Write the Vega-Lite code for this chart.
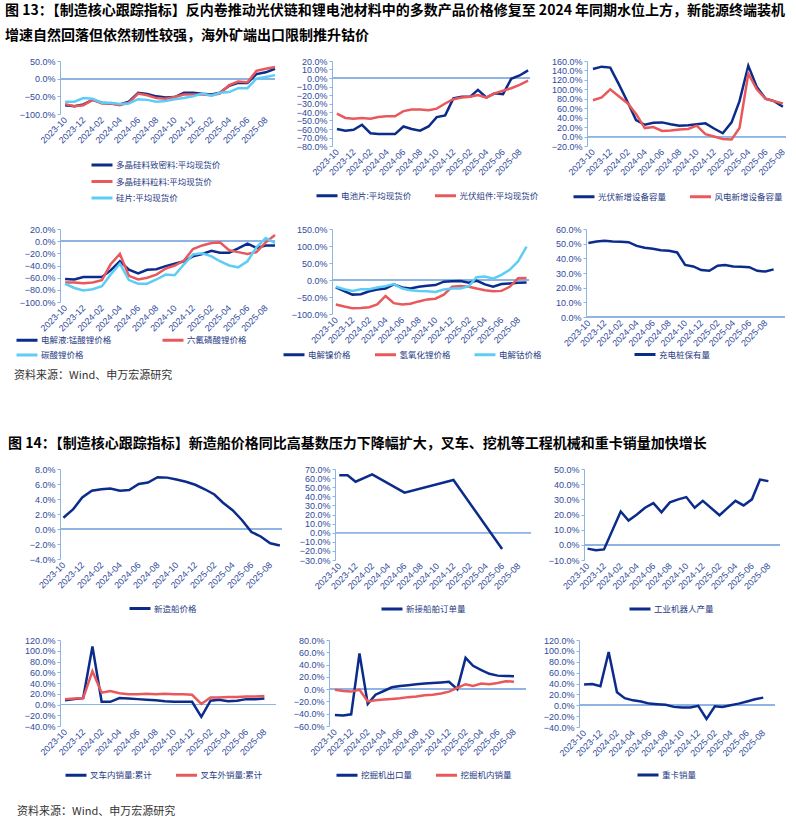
{
"$schema": "https://vega.github.io/schema/vega-lite/v6.json",
"padding": {"left": 5, "top": 4, "right": 5, "bottom": 5},
"background": "white",
"spacing": 56,
"resolve": {"scale": {"color": "independent"}, "legend": {"color": "independent"}},
"vconcat": [
{
 "title": {"text": ["图 13：【制造核心跟踪指标】反内卷推动光伏链和锂电池材料中的多数产品价格修复至 2024 年同期水位上方，新能源终端装机", "增速自然回落但依然韧性较强，海外矿端出口限制推升钴价"], "fontSize": 14, "fontWeight": "bold", "lineHeight": 25, "dx": -9, "offset": 14, "anchor": "start", "color": "#000000", "font": "Noto Sans CJK SC"},
 "resolve": {"scale": {"color": "independent"}, "legend": {"color": "independent"}},
 "vconcat": [
 {
  "title": {"text": "资料来源：Wind、申万宏源研究", "orient": "bottom", "fontSize": 11, "fontWeight": "normal", "color": "#333333", "dx": -1, "offset": 8, "anchor": "start", "font": "Noto Sans CJK SC"},
  "spacing": 20,
  "resolve": {"scale": {"color": "independent"}, "legend": {"color": "independent"}},
  "vconcat": [
  {"spacing": 57, "bounds": "flush", "resolve": {"scale": {"color": "independent"}, "legend": {"color": "independent"}}, "hconcat": [
   {"width": 215, "height": 53, "data": {"name": "p1", "format": {"parse": {"d": "date:'%Y-%m'"}}},
    "layer": [
     {"mark": {"type": "rule", "color": "#8EB4E3", "strokeWidth": 1}, "encoding": {"y": {"datum": 0, "type": "quantitative", "title": null, "axis": {"values": [-100, -50, 0, 50], "labelExpr": "format(datum.value, '.1f') + '%'", "labelOverlap": false, "minExtent": 45, "maxExtent": 45}}}},
     {"mark": {"type": "line", "strokeWidth": 2.5},
      "encoding": {
       "x": {"field": "d", "type": "temporal", "title": null, "scale": {"domain": [{"year": 2023, "month": 9, "date": 14}, {"year": 2025, "month": 9, "date": 1}]}, "axis": {"values": [{"year":2023,"month":10},{"year":2023,"month":12},{"year":2024,"month":2},{"year":2024,"month":4},{"year":2024,"month":6},{"year":2024,"month":8},{"year":2024,"month":10},{"year":2024,"month":12},{"year":2025,"month":2},{"year":2025,"month":4},{"year":2025,"month":6},{"year":2025,"month":8}]}},
       "y": {"field": "v", "type": "quantitative", "title": null, "scale": {"domain": [-100, 50], "nice": false, "zero": false}, "axis": {"values": [-100, -50, 0, 50], "labelExpr": "format(datum.value, '.1f') + '%'", "labelOverlap": false, "minExtent": 45, "maxExtent": 45}},
       "color": {"field": "s", "type": "nominal", "sort": null, "scale": {"domain": ["多晶硅料致密料:平均现货价", "多晶硅料粒料:平均现货价", "硅片:平均现货价"], "range": ["#0B2C8A", "#E9585B", "#5ECDF6"]}, "legend": {"orient": "none", "legendX": 35.5, "legendY": 97.5, "direction": "vertical", "columns": 1, "rowPadding": 3.5, "title": null}}
      }}
    ]},
   {"width": 198, "height": 85, "data": {"name": "p2", "format": {"parse": {"d": "date:'%Y-%m'"}}},
    "layer": [
     {"mark": {"type": "rule", "color": "#8EB4E3", "strokeWidth": 1}, "encoding": {"y": {"datum": 0, "type": "quantitative", "title": null, "axis": {"values": [-80, -70, -60, -50, -40, -30, -20, -10, 0, 10, 20], "labelExpr": "format(datum.value, '.1f') + '%'", "labelOverlap": false, "minExtent": 52, "maxExtent": 52}}}},
     {"mark": {"type": "line", "strokeWidth": 2.5},
      "encoding": {
       "x": {"field": "d", "type": "temporal", "title": null, "scale": {"domain": [{"year": 2023, "month": 9, "date": 13}, {"year": 2025, "month": 9, "date": 8}]}, "axis": {"values": [{"year":2023,"month":10},{"year":2023,"month":12},{"year":2024,"month":2},{"year":2024,"month":4},{"year":2024,"month":6},{"year":2024,"month":8},{"year":2024,"month":10},{"year":2024,"month":12},{"year":2025,"month":2},{"year":2025,"month":4},{"year":2025,"month":6},{"year":2025,"month":8}]}},
       "y": {"field": "v", "type": "quantitative", "title": null, "scale": {"domain": [-80, 20], "nice": false, "zero": false}, "axis": {"values": [-80, -70, -60, -50, -40, -30, -20, -10, 0, 10, 20], "labelExpr": "format(datum.value, '.1f') + '%'", "labelOverlap": false, "minExtent": 52, "maxExtent": 52}},
       "color": {"field": "s", "type": "nominal", "sort": null, "scale": {"domain": ["电池片:平均现货价", "光伏组件:平均现货价"], "range": ["#0B2C8A", "#E9585B"]}, "legend": {"orient": "none", "legendX": -11.5, "legendY": 128, "direction": "horizontal", "title": null}}
      }}
    ]},
   {"width": 199, "height": 85, "data": {"name": "p3", "format": {"parse": {"d": "date:'%Y-%m'"}}},
    "layer": [
     {"mark": {"type": "rule", "color": "#8EB4E3", "strokeWidth": 1}, "encoding": {"y": {"datum": 0, "type": "quantitative", "title": null, "axis": {"values": [-20, 0, 20, 40, 60, 80, 100, 120, 140, 160], "labelExpr": "format(datum.value, '.1f') + '%'", "labelOverlap": false, "minExtent": 51, "maxExtent": 51}}}},
     {"mark": {"type": "line", "strokeWidth": 2.5},
      "encoding": {
       "x": {"field": "d", "type": "temporal", "title": null, "scale": {"domain": [{"year": 2023, "month": 9, "date": 10}, {"year": 2025, "month": 8, "date": 12}]}, "axis": {"values": [{"year":2023,"month":10},{"year":2023,"month":12},{"year":2024,"month":2},{"year":2024,"month":4},{"year":2024,"month":6},{"year":2024,"month":8},{"year":2024,"month":10},{"year":2024,"month":12},{"year":2025,"month":2},{"year":2025,"month":4},{"year":2025,"month":6},{"year":2025,"month":8}]}},
       "y": {"field": "v", "type": "quantitative", "title": null, "scale": {"domain": [-20, 160], "nice": false, "zero": false}, "axis": {"values": [-20, 0, 20, 40, 60, 80, 100, 120, 140, 160], "labelExpr": "format(datum.value, '.1f') + '%'", "labelOverlap": false, "minExtent": 51, "maxExtent": 51}},
       "color": {"field": "s", "type": "nominal", "sort": null, "scale": {"domain": ["光伏新增设备容量", "风电新增设备容量"], "range": ["#0B2C8A", "#E9585B"]}, "legend": {"orient": "none", "legendX": -9.5, "legendY": 129, "direction": "horizontal", "title": null}}
      }}
    ]}
  ]},
  {"spacing": 57, "bounds": "flush", "resolve": {"scale": {"color": "independent"}, "legend": {"color": "independent"}}, "hconcat": [
   {"width": 215, "height": 73, "data": {"name": "p4", "format": {"parse": {"d": "date:'%Y-%m'"}}},
    "layer": [
     {"mark": {"type": "rule", "color": "#8EB4E3", "strokeWidth": 1}, "encoding": {"y": {"datum": 0, "type": "quantitative", "title": null, "axis": {"values": [-100, -80, -60, -40, -20, 0, 20], "labelExpr": "format(datum.value, '.1f') + '%'", "labelOverlap": false, "minExtent": 45, "maxExtent": 45}}}},
     {"mark": {"type": "line", "strokeWidth": 2.5},
      "encoding": {
       "x": {"field": "d", "type": "temporal", "title": null, "scale": {"domain": [{"year": 2023, "month": 9, "date": 14}, {"year": 2025, "month": 9, "date": 1}]}, "axis": {"values": [{"year":2023,"month":10},{"year":2023,"month":12},{"year":2024,"month":2},{"year":2024,"month":4},{"year":2024,"month":6},{"year":2024,"month":8},{"year":2024,"month":10},{"year":2024,"month":12},{"year":2025,"month":2},{"year":2025,"month":4},{"year":2025,"month":6},{"year":2025,"month":8}]}},
       "y": {"field": "v", "type": "quantitative", "title": null, "scale": {"domain": [-100, 20], "nice": false, "zero": false}, "axis": {"values": [-100, -80, -60, -40, -20, 0, 20], "labelExpr": "format(datum.value, '.1f') + '%'", "labelOverlap": false, "minExtent": 45, "maxExtent": 45}},
       "color": {"field": "s", "type": "nominal", "sort": null, "scale": {"domain": ["电解液:锰酸锂价格", "六氟磷酸锂价格", "碳酸锂价格"], "range": ["#0B2C8A", "#E9585B", "#5ECDF6"]}, "legend": {"orient": "none", "legendX": -39.5, "legendY": 104.5, "direction": "horizontal", "columns": 2, "rowPadding": 2, "columnPadding": 45, "title": null}}
      }}
    ]},
   {"width": 197, "height": 85, "data": {"name": "p5", "format": {"parse": {"d": "date:'%Y-%m'"}}},
    "layer": [
     {"mark": {"type": "rule", "color": "#8EB4E3", "strokeWidth": 1}, "encoding": {"y": {"datum": 0, "type": "quantitative", "title": null, "axis": {"values": [-100, -50, 0, 50, 100, 150], "labelExpr": "format(datum.value, '.1f') + '%'", "labelOverlap": false, "minExtent": 58, "maxExtent": 58}}}},
     {"mark": {"type": "line", "strokeWidth": 2.5},
      "encoding": {
       "x": {"field": "d", "type": "temporal", "title": null, "scale": {"domain": [{"year": 2023, "month": 9, "date": 17}, {"year": 2025, "month": 9, "date": 10}]}, "axis": {"values": [{"year":2023,"month":10},{"year":2023,"month":12},{"year":2024,"month":2},{"year":2024,"month":4},{"year":2024,"month":6},{"year":2024,"month":8},{"year":2024,"month":10},{"year":2024,"month":12},{"year":2025,"month":2},{"year":2025,"month":4},{"year":2025,"month":6},{"year":2025,"month":8}]}},
       "y": {"field": "v", "type": "quantitative", "title": null, "scale": {"domain": [-100, 150], "nice": false, "zero": false}, "axis": {"values": [-100, -50, 0, 50, 100, 150], "labelExpr": "format(datum.value, '.1f') + '%'", "labelOverlap": false, "minExtent": 58, "maxExtent": 58}},
       "color": {"field": "s", "type": "nominal", "sort": null, "scale": {"domain": ["电解镍价格", "氢氧化锂价格", "电解钴价格"], "range": ["#0B2C8A", "#E9585B", "#5ECDF6"]}, "legend": {"orient": "none", "legendX": -44.5, "legendY": 119, "direction": "horizontal", "title": null}}
      }}
    ]},
   {"width": 199, "height": 88, "data": {"name": "p6", "format": {"parse": {"d": "date:'%Y-%m'"}}},
    "layer": [
     {"mark": {"type": "rule", "color": "#8EB4E3", "strokeWidth": 1}, "encoding": {"y": {"datum": 0, "type": "quantitative", "title": null, "axis": {"values": [0, 10, 20, 30, 40, 50, 60], "labelExpr": "format(datum.value, '.1f') + '%'", "labelOverlap": false, "minExtent": 46, "maxExtent": 46}}}},
     {"mark": {"type": "line", "strokeWidth": 2.5},
      "encoding": {
       "x": {"field": "d", "type": "temporal", "title": null, "scale": {"domain": [{"year": 2023, "month": 9, "date": 22}, {"year": 2025, "month": 10, "date": 14}]}, "axis": {"values": [{"year":2023,"month":10},{"year":2023,"month":12},{"year":2024,"month":2},{"year":2024,"month":4},{"year":2024,"month":6},{"year":2024,"month":8},{"year":2024,"month":10},{"year":2024,"month":12},{"year":2025,"month":2},{"year":2025,"month":4},{"year":2025,"month":6},{"year":2025,"month":8}]}},
       "y": {"field": "v", "type": "quantitative", "title": null, "scale": {"domain": [0, 60], "nice": false, "zero": false}, "axis": {"values": [0, 10, 20, 30, 40, 50, 60], "labelExpr": "format(datum.value, '.1f') + '%'", "labelOverlap": false, "minExtent": 46, "maxExtent": 46}},
       "color": {"field": "s", "type": "nominal", "sort": null, "scale": {"domain": ["充电桩保有量"], "range": ["#0B2C8A"]}, "legend": {"orient": "none", "legendX": 52.5, "legendY": 119, "direction": "horizontal", "title": null}}
      }}
    ]}
  ]}
  ]
 }
 ]
},
{
 "title": {"text": "图 14：【制造核心跟踪指标】新造船价格同比高基数压力下降幅扩大，叉车、挖机等工程机械和重卡销量加快增长", "fontSize": 14, "fontWeight": "bold", "dx": -9, "offset": 14, "anchor": "start", "color": "#000000", "font": "Noto Sans CJK SC"},
 "resolve": {"scale": {"color": "independent"}, "legend": {"color": "independent"}},
 "vconcat": [
 {
  "title": {"text": "资料来源：Wind、申万宏源研究", "orient": "bottom", "fontSize": 11, "fontWeight": "normal", "color": "#333333", "dx": -1, "offset": 24, "anchor": "start", "font": "Noto Sans CJK SC"},
  "spacing": 20,
  "resolve": {"scale": {"color": "independent"}, "legend": {"color": "independent"}},
  "vconcat": [
  {"spacing": 53, "bounds": "flush", "resolve": {"scale": {"color": "independent"}, "legend": {"color": "independent"}}, "hconcat": [
   {"width": 222, "height": 90, "data": {"name": "p7", "format": {"parse": {"d": "date:'%Y-%m'"}}},
    "layer": [
     {"mark": {"type": "rule", "color": "#8EB4E3", "strokeWidth": 1}, "encoding": {"y": {"datum": 0, "type": "quantitative", "title": null, "axis": {"values": [-4, -2, 0, 2, 4, 6, 8], "labelExpr": "format(datum.value, '.1f') + '%'", "labelOverlap": false, "minExtent": 37, "maxExtent": 37}}}},
     {"mark": {"type": "line", "strokeWidth": 2.5},
      "encoding": {
       "x": {"field": "d", "type": "temporal", "title": null, "scale": {"domain": [{"year": 2023, "month": 9, "date": 20}, {"year": 2025, "month": 9, "date": 8}]}, "axis": {"values": [{"year":2023,"month":10},{"year":2023,"month":12},{"year":2024,"month":2},{"year":2024,"month":4},{"year":2024,"month":6},{"year":2024,"month":8},{"year":2024,"month":10},{"year":2024,"month":12},{"year":2025,"month":2},{"year":2025,"month":4},{"year":2025,"month":6},{"year":2025,"month":8}]}},
       "y": {"field": "v", "type": "quantitative", "title": null, "scale": {"domain": [-4, 8], "nice": false, "zero": false}, "axis": {"values": [-4, -2, 0, 2, 4, 6, 8], "labelExpr": "format(datum.value, '.1f') + '%'", "labelOverlap": false, "minExtent": 37, "maxExtent": 37}},
       "color": {"field": "s", "type": "nominal", "sort": null, "scale": {"domain": ["新造船价格"], "range": ["#0B2C8A"]}, "legend": {"orient": "none", "legendX": 73.5, "legendY": 133, "direction": "horizontal", "title": null}}
      }}
    ]},
   {"width": 196, "height": 91, "data": {"name": "p8", "format": {"parse": {"d": "date:'%Y-%m'"}}},
    "layer": [
     {"mark": {"type": "rule", "color": "#8EB4E3", "strokeWidth": 1}, "encoding": {"y": {"datum": 0, "type": "quantitative", "title": null, "axis": {"values": [-30, -20, -10, 0, 10, 20, 30, 40, 50, 60, 70], "labelExpr": "format(datum.value, '.1f') + '%'", "labelOverlap": false, "minExtent": 48, "maxExtent": 48}}}},
     {"mark": {"type": "line", "strokeWidth": 2.5},
      "encoding": {
       "x": {"field": "d", "type": "temporal", "title": null, "scale": {"domain": [{"year": 2023, "month": 9, "date": 15}, {"year": 2025, "month": 9, "date": 17}]}, "axis": {"values": [{"year":2023,"month":10},{"year":2023,"month":12},{"year":2024,"month":2},{"year":2024,"month":4},{"year":2024,"month":6},{"year":2024,"month":8},{"year":2024,"month":10},{"year":2024,"month":12},{"year":2025,"month":2},{"year":2025,"month":4},{"year":2025,"month":6},{"year":2025,"month":8}]}},
       "y": {"field": "v", "type": "quantitative", "title": null, "scale": {"domain": [-30, 70], "nice": false, "zero": false}, "axis": {"values": [-30, -20, -10, 0, 10, 20, 30, 40, 50, 60, 70], "labelExpr": "format(datum.value, '.1f') + '%'", "labelOverlap": false, "minExtent": 48, "maxExtent": 48}},
       "color": {"field": "s", "type": "nominal", "sort": null, "scale": {"domain": ["新接船舶订单量"], "range": ["#0B2C8A"]}, "legend": {"orient": "none", "legendX": 50.5, "legendY": 133.5, "direction": "horizontal", "title": null}}
      }}
    ]},
   {"width": 196, "height": 91, "data": {"name": "p9", "format": {"parse": {"d": "date:'%Y-%m'"}}},
    "layer": [
     {"mark": {"type": "rule", "color": "#8EB4E3", "strokeWidth": 1}, "encoding": {"y": {"datum": 0, "type": "quantitative", "title": null, "axis": {"values": [-10, 0, 10, 20, 30, 40, 50], "labelExpr": "format(datum.value, '.1f') + '%'", "labelOverlap": false, "minExtent": 48, "maxExtent": 48}}}},
     {"mark": {"type": "line", "strokeWidth": 2.5},
      "encoding": {
       "x": {"field": "d", "type": "temporal", "title": null, "scale": {"domain": [{"year": 2023, "month": 9, "date": 18}, {"year": 2025, "month": 9, "date": 13}]}, "axis": {"values": [{"year":2023,"month":10},{"year":2023,"month":12},{"year":2024,"month":2},{"year":2024,"month":4},{"year":2024,"month":6},{"year":2024,"month":8},{"year":2024,"month":10},{"year":2024,"month":12},{"year":2025,"month":2},{"year":2025,"month":4},{"year":2025,"month":6},{"year":2025,"month":8}]}},
       "y": {"field": "v", "type": "quantitative", "title": null, "scale": {"domain": [-10, 50], "nice": false, "zero": false}, "axis": {"values": [-10, 0, 10, 20, 30, 40, 50], "labelExpr": "format(datum.value, '.1f') + '%'", "labelOverlap": false, "minExtent": 48, "maxExtent": 48}},
       "color": {"field": "s", "type": "nominal", "sort": null, "scale": {"domain": ["工业机器人产量"], "range": ["#0B2C8A"]}, "legend": {"orient": "none", "legendX": 49.5, "legendY": 133.5, "direction": "horizontal", "title": null}}
      }}
    ]}
  ]},
  {"spacing": 53, "bounds": "flush", "resolve": {"scale": {"color": "independent"}, "legend": {"color": "independent"}}, "hconcat": [
   {"width": 216, "height": 86, "data": {"name": "p10", "format": {"parse": {"d": "date:'%Y-%m'"}}},
    "layer": [
     {"mark": {"type": "rule", "color": "#8EB4E3", "strokeWidth": 1}, "encoding": {"y": {"datum": 0, "type": "quantitative", "title": null, "axis": {"values": [-40, -20, 0, 20, 40, 60, 80, 100, 120], "labelExpr": "format(datum.value, '.1f') + '%'", "labelOverlap": false, "minExtent": 42, "maxExtent": 42}}}},
     {"mark": {"type": "line", "strokeWidth": 2.5},
      "encoding": {
       "x": {"field": "d", "type": "temporal", "title": null, "scale": {"domain": [{"year": 2023, "month": 9, "date": 14}, {"year": 2025, "month": 9, "date": 9}]}, "axis": {"values": [{"year":2023,"month":10},{"year":2023,"month":12},{"year":2024,"month":2},{"year":2024,"month":4},{"year":2024,"month":6},{"year":2024,"month":8},{"year":2024,"month":10},{"year":2024,"month":12},{"year":2025,"month":2},{"year":2025,"month":4},{"year":2025,"month":6},{"year":2025,"month":8}]}},
       "y": {"field": "v", "type": "quantitative", "title": null, "scale": {"domain": [-40, 120], "nice": false, "zero": false}, "axis": {"values": [-40, -20, 0, 20, 40, 60, 80, 100, 120], "labelExpr": "format(datum.value, '.1f') + '%'", "labelOverlap": false, "minExtent": 42, "maxExtent": 42}},
       "color": {"field": "s", "type": "nominal", "sort": null, "scale": {"domain": ["叉车内销量:累计", "叉车外销量:累计"], "range": ["#0B2C8A", "#E9585B"]}, "legend": {"orient": "none", "legendX": 9.5, "legendY": 128.5, "direction": "horizontal", "title": null}}
      }}
    ]},
   {"width": 197, "height": 86, "data": {"name": "p11", "format": {"parse": {"d": "date:'%Y-%m'"}}},
    "layer": [
     {"mark": {"type": "rule", "color": "#8EB4E3", "strokeWidth": 1}, "encoding": {"y": {"datum": 0, "type": "quantitative", "title": null, "axis": {"values": [-60, -40, -20, 0, 20, 40, 60, 80], "labelExpr": "format(datum.value, '.1f') + '%'", "labelOverlap": false, "minExtent": 48, "maxExtent": 48}}}},
     {"mark": {"type": "line", "strokeWidth": 2.5},
      "encoding": {
       "x": {"field": "d", "type": "temporal", "title": null, "scale": {"domain": [{"year": 2023, "month": 9, "date": 9}, {"year": 2025, "month": 9, "date": 15}]}, "axis": {"values": [{"year":2023,"month":10},{"year":2023,"month":12},{"year":2024,"month":2},{"year":2024,"month":4},{"year":2024,"month":6},{"year":2024,"month":8},{"year":2024,"month":10},{"year":2024,"month":12},{"year":2025,"month":2},{"year":2025,"month":4},{"year":2025,"month":6},{"year":2025,"month":8}]}},
       "y": {"field": "v", "type": "quantitative", "title": null, "scale": {"domain": [-60, 80], "nice": false, "zero": false}, "axis": {"values": [-60, -40, -20, 0, 20, 40, 60, 80], "labelExpr": "format(datum.value, '.1f') + '%'", "labelOverlap": false, "minExtent": 48, "maxExtent": 48}},
       "color": {"field": "s", "type": "nominal", "sort": null, "scale": {"domain": ["挖掘机出口量", "挖掘机内销量"], "range": ["#0B2C8A", "#E9585B"]}, "legend": {"orient": "none", "legendX": 11.5, "legendY": 128.5, "direction": "horizontal", "title": null}}
      }}
    ]},
   {"width": 196, "height": 87, "data": {"name": "p12", "format": {"parse": {"d": "date:'%Y-%m'"}}},
    "layer": [
     {"mark": {"type": "rule", "color": "#8EB4E3", "strokeWidth": 1}, "encoding": {"y": {"datum": 0, "type": "quantitative", "title": null, "axis": {"values": [-40, -20, 0, 20, 40, 60, 80, 100, 120], "labelExpr": "format(datum.value, '.1f') + '%'", "labelOverlap": false, "minExtent": 49, "maxExtent": 49}}}},
     {"mark": {"type": "line", "strokeWidth": 2.5},
      "encoding": {
       "x": {"field": "d", "type": "temporal", "title": null, "scale": {"domain": [{"year": 2023, "month": 9, "date": 12}, {"year": 2025, "month": 9, "date": 14}]}, "axis": {"values": [{"year":2023,"month":10},{"year":2023,"month":12},{"year":2024,"month":2},{"year":2024,"month":4},{"year":2024,"month":6},{"year":2024,"month":8},{"year":2024,"month":10},{"year":2024,"month":12},{"year":2025,"month":2},{"year":2025,"month":4},{"year":2025,"month":6},{"year":2025,"month":8}]}},
       "y": {"field": "v", "type": "quantitative", "title": null, "scale": {"domain": [-40, 120], "nice": false, "zero": false}, "axis": {"values": [-40, -20, 0, 20, 40, 60, 80, 100, 120], "labelExpr": "format(datum.value, '.1f') + '%'", "labelOverlap": false, "minExtent": 49, "maxExtent": 49}},
       "color": {"field": "s", "type": "nominal", "sort": null, "scale": {"domain": ["重卡销量"], "range": ["#0B2C8A"]}, "legend": {"orient": "none", "legendX": 62.5, "legendY": 128.5, "direction": "horizontal", "title": null}}
      }}
    ]}
  ]}
  ]
 }
 ]
}
],
"datasets": {
"p1": [
{"d":"2023-10","s":"多晶硅料致密料:平均现货价","v":-75},{"d":"2023-11","s":"多晶硅料致密料:平均现货价","v":-78},{"d":"2023-12","s":"多晶硅料致密料:平均现货价","v":-73},{"d":"2024-01","s":"多晶硅料致密料:平均现货价","v":-60},{"d":"2024-02","s":"多晶硅料致密料:平均现货价","v":-68},{"d":"2024-03","s":"多晶硅料致密料:平均现货价","v":-70},{"d":"2024-04","s":"多晶硅料致密料:平均现货价","v":-73},{"d":"2024-05","s":"多晶硅料致密料:平均现货价","v":-65},{"d":"2024-06","s":"多晶硅料致密料:平均现货价","v":-40},{"d":"2024-07","s":"多晶硅料致密料:平均现货价","v":-43},{"d":"2024-08","s":"多晶硅料致密料:平均现货价","v":-50},{"d":"2024-09","s":"多晶硅料致密料:平均现货价","v":-53},{"d":"2024-10","s":"多晶硅料致密料:平均现货价","v":-52},{"d":"2024-11","s":"多晶硅料致密料:平均现货价","v":-40},{"d":"2024-12","s":"多晶硅料致密料:平均现货价","v":-40},{"d":"2025-01","s":"多晶硅料致密料:平均现货价","v":-43},{"d":"2025-02","s":"多晶硅料致密料:平均现货价","v":-45},{"d":"2025-03","s":"多晶硅料致密料:平均现货价","v":-40},{"d":"2025-04","s":"多晶硅料致密料:平均现货价","v":-20},{"d":"2025-05","s":"多晶硅料致密料:平均现货价","v":-12},{"d":"2025-06","s":"多晶硅料致密料:平均现货价","v":-12},{"d":"2025-07","s":"多晶硅料致密料:平均现货价","v":13},{"d":"2025-08","s":"多晶硅料致密料:平均现货价","v":18},{"d":"2025-09","s":"多晶硅料致密料:平均现货价","v":28},
{"d":"2023-10","s":"多晶硅料粒料:平均现货价","v":-72},{"d":"2023-11","s":"多晶硅料粒料:平均现货价","v":-78},{"d":"2023-12","s":"多晶硅料粒料:平均现货价","v":-75},{"d":"2024-01","s":"多晶硅料粒料:平均现货价","v":-60},{"d":"2024-02","s":"多晶硅料粒料:平均现货价","v":-70},{"d":"2024-03","s":"多晶硅料粒料:平均现货价","v":-70},{"d":"2024-04","s":"多晶硅料粒料:平均现货价","v":-75},{"d":"2024-05","s":"多晶硅料粒料:平均现货价","v":-68},{"d":"2024-06","s":"多晶硅料粒料:平均现货价","v":-42},{"d":"2024-07","s":"多晶硅料粒料:平均现货价","v":-47},{"d":"2024-08","s":"多晶硅料粒料:平均现货价","v":-55},{"d":"2024-09","s":"多晶硅料粒料:平均现货价","v":-57},{"d":"2024-10","s":"多晶硅料粒料:平均现货价","v":-52},{"d":"2024-11","s":"多晶硅料粒料:平均现货价","v":-45},{"d":"2024-12","s":"多晶硅料粒料:平均现货价","v":-45},{"d":"2025-01","s":"多晶硅料粒料:平均现货价","v":-45},{"d":"2025-02","s":"多晶硅料粒料:平均现货价","v":-47},{"d":"2025-03","s":"多晶硅料粒料:平均现货价","v":-42},{"d":"2025-04","s":"多晶硅料粒料:平均现货价","v":-18},{"d":"2025-05","s":"多晶硅料粒料:平均现货价","v":-8},{"d":"2025-06","s":"多晶硅料粒料:平均现货价","v":-10},{"d":"2025-07","s":"多晶硅料粒料:平均现货价","v":22},{"d":"2025-08","s":"多晶硅料粒料:平均现货价","v":28},{"d":"2025-09","s":"多晶硅料粒料:平均现货价","v":33},
{"d":"2023-10","s":"硅片:平均现货价","v":-65},{"d":"2023-11","s":"硅片:平均现货价","v":-65},{"d":"2023-12","s":"硅片:平均现货价","v":-55},{"d":"2024-01","s":"硅片:平均现货价","v":-57},{"d":"2024-02","s":"硅片:平均现货价","v":-68},{"d":"2024-03","s":"硅片:平均现货价","v":-68},{"d":"2024-04","s":"硅片:平均现货价","v":-72},{"d":"2024-05","s":"硅片:平均现货价","v":-70},{"d":"2024-06","s":"硅片:平均现货价","v":-58},{"d":"2024-07","s":"硅片:平均现货价","v":-60},{"d":"2024-08","s":"硅片:平均现货价","v":-65},{"d":"2024-09","s":"硅片:平均现货价","v":-63},{"d":"2024-10","s":"硅片:平均现货价","v":-58},{"d":"2024-11","s":"硅片:平均现货价","v":-55},{"d":"2024-12","s":"硅片:平均现货价","v":-50},{"d":"2025-01","s":"硅片:平均现货价","v":-42},{"d":"2025-02","s":"硅片:平均现货价","v":-48},{"d":"2025-03","s":"硅片:平均现货价","v":-40},{"d":"2025-04","s":"硅片:平均现货价","v":-38},{"d":"2025-05","s":"硅片:平均现货价","v":-27},{"d":"2025-06","s":"硅片:平均现货价","v":-27},{"d":"2025-07","s":"硅片:平均现货价","v":0},{"d":"2025-08","s":"硅片:平均现货价","v":5},{"d":"2025-09","s":"硅片:平均现货价","v":10}
],
"p2": [
{"d":"2023-10","s":"电池片:平均现货价","v":-60},{"d":"2023-11","s":"电池片:平均现货价","v":-62},{"d":"2023-12","s":"电池片:平均现货价","v":-61},{"d":"2024-01","s":"电池片:平均现货价","v":-55},{"d":"2024-02","s":"电池片:平均现货价","v":-65},{"d":"2024-03","s":"电池片:平均现货价","v":-66},{"d":"2024-04","s":"电池片:平均现货价","v":-66},{"d":"2024-05","s":"电池片:平均现货价","v":-66},{"d":"2024-06","s":"电池片:平均现货价","v":-57},{"d":"2024-07","s":"电池片:平均现货价","v":-60},{"d":"2024-08","s":"电池片:平均现货价","v":-62},{"d":"2024-09","s":"电池片:平均现货价","v":-57},{"d":"2024-10","s":"电池片:平均现货价","v":-46},{"d":"2024-11","s":"电池片:平均现货价","v":-44},{"d":"2024-12","s":"电池片:平均现货价","v":-24},{"d":"2025-01","s":"电池片:平均现货价","v":-22},{"d":"2025-02","s":"电池片:平均现货价","v":-22},{"d":"2025-03","s":"电池片:平均现货价","v":-14},{"d":"2025-04","s":"电池片:平均现货价","v":-23},{"d":"2025-05","s":"电池片:平均现货价","v":-18},{"d":"2025-06","s":"电池片:平均现货价","v":-19},{"d":"2025-07","s":"电池片:平均现货价","v":-1},{"d":"2025-08","s":"电池片:平均现货价","v":3},{"d":"2025-09","s":"电池片:平均现货价","v":9},
{"d":"2023-10","s":"光伏组件:平均现货价","v":-42},{"d":"2023-11","s":"光伏组件:平均现货价","v":-47},{"d":"2023-12","s":"光伏组件:平均现货价","v":-48},{"d":"2024-01","s":"光伏组件:平均现货价","v":-47},{"d":"2024-02","s":"光伏组件:平均现货价","v":-48},{"d":"2024-03","s":"光伏组件:平均现货价","v":-46},{"d":"2024-04","s":"光伏组件:平均现货价","v":-45},{"d":"2024-05","s":"光伏组件:平均现货价","v":-45},{"d":"2024-06","s":"光伏组件:平均现货价","v":-39},{"d":"2024-07","s":"光伏组件:平均现货价","v":-37},{"d":"2024-08","s":"光伏组件:平均现货价","v":-37},{"d":"2024-09","s":"光伏组件:平均现货价","v":-38},{"d":"2024-10","s":"光伏组件:平均现货价","v":-36},{"d":"2024-11","s":"光伏组件:平均现货价","v":-30},{"d":"2024-12","s":"光伏组件:平均现货价","v":-25},{"d":"2025-01","s":"光伏组件:平均现货价","v":-23},{"d":"2025-02","s":"光伏组件:平均现货价","v":-22},{"d":"2025-03","s":"光伏组件:平均现货价","v":-20},{"d":"2025-04","s":"光伏组件:平均现货价","v":-23},{"d":"2025-05","s":"光伏组件:平均现货价","v":-18},{"d":"2025-06","s":"光伏组件:平均现货价","v":-15},{"d":"2025-07","s":"光伏组件:平均现货价","v":-12},{"d":"2025-08","s":"光伏组件:平均现货价","v":-8},{"d":"2025-09","s":"光伏组件:平均现货价","v":-3}
],
"p3": [
{"d":"2023-10","s":"光伏新增设备容量","v":143},{"d":"2023-11","s":"光伏新增设备容量","v":148},{"d":"2023-12","s":"光伏新增设备容量","v":146},{"d":"2024-01","s":"光伏新增设备容量","v":110},{"d":"2024-02","s":"光伏新增设备容量","v":72},{"d":"2024-03","s":"光伏新增设备容量","v":35},{"d":"2024-04","s":"光伏新增设备容量","v":25},{"d":"2024-05","s":"光伏新增设备容量","v":29},{"d":"2024-06","s":"光伏新增设备容量","v":30},{"d":"2024-07","s":"光伏新增设备容量","v":26},{"d":"2024-08","s":"光伏新增设备容量","v":23},{"d":"2024-09","s":"光伏新增设备容量","v":24},{"d":"2024-10","s":"光伏新增设备容量","v":26},{"d":"2024-11","s":"光伏新增设备容量","v":28},{"d":"2024-12","s":"光伏新增设备容量","v":17},{"d":"2025-01","s":"光伏新增设备容量","v":7},{"d":"2025-02","s":"光伏新增设备容量","v":30},{"d":"2025-03","s":"光伏新增设备容量","v":75},{"d":"2025-04","s":"光伏新增设备容量","v":150},{"d":"2025-05","s":"光伏新增设备容量","v":105},{"d":"2025-06","s":"光伏新增设备容量","v":80},{"d":"2025-07","s":"光伏新增设备容量","v":75},{"d":"2025-08","s":"光伏新增设备容量","v":63},
{"d":"2023-10","s":"风电新增设备容量","v":77},{"d":"2023-11","s":"风电新增设备容量","v":83},{"d":"2023-12","s":"风电新增设备容量","v":100},{"d":"2024-01","s":"风电新增设备容量","v":85},{"d":"2024-02","s":"风电新增设备容量","v":70},{"d":"2024-03","s":"风电新增设备容量","v":48},{"d":"2024-04","s":"风电新增设备容量","v":18},{"d":"2024-05","s":"风电新增设备容量","v":20},{"d":"2024-06","s":"风电新增设备容量","v":12},{"d":"2024-07","s":"风电新增设备容量","v":13},{"d":"2024-08","s":"风电新增设备容量","v":15},{"d":"2024-09","s":"风电新增设备容量","v":16},{"d":"2024-10","s":"风电新增设备容量","v":23},{"d":"2024-11","s":"风电新增设备容量","v":5},{"d":"2024-12","s":"风电新增设备容量","v":0},{"d":"2025-01","s":"风电新增设备容量","v":-5},{"d":"2025-02","s":"风电新增设备容量","v":-6},{"d":"2025-03","s":"风电新增设备容量","v":18},{"d":"2025-04","s":"风电新增设备容量","v":133},{"d":"2025-05","s":"风电新增设备容量","v":100},{"d":"2025-06","s":"风电新增设备容量","v":80},{"d":"2025-07","s":"风电新增设备容量","v":75},{"d":"2025-08","s":"风电新增设备容量","v":70}
],
"p4": [
{"d":"2023-10","s":"电解液:锰酸锂价格","v":-62},{"d":"2023-11","s":"电解液:锰酸锂价格","v":-63},{"d":"2023-12","s":"电解液:锰酸锂价格","v":-59},{"d":"2024-01","s":"电解液:锰酸锂价格","v":-59},{"d":"2024-02","s":"电解液:锰酸锂价格","v":-59},{"d":"2024-03","s":"电解液:锰酸锂价格","v":-48},{"d":"2024-04","s":"电解液:锰酸锂价格","v":-33},{"d":"2024-05","s":"电解液:锰酸锂价格","v":-47},{"d":"2024-06","s":"电解液:锰酸锂价格","v":-53},{"d":"2024-07","s":"电解液:锰酸锂价格","v":-47},{"d":"2024-08","s":"电解液:锰酸锂价格","v":-46},{"d":"2024-09","s":"电解液:锰酸锂价格","v":-41},{"d":"2024-10","s":"电解液:锰酸锂价格","v":-37},{"d":"2024-11","s":"电解液:锰酸锂价格","v":-33},{"d":"2024-12","s":"电解液:锰酸锂价格","v":-25},{"d":"2025-01","s":"电解液:锰酸锂价格","v":-21},{"d":"2025-02","s":"电解液:锰酸锂价格","v":-16},{"d":"2025-03","s":"电解液:锰酸锂价格","v":-19},{"d":"2025-04","s":"电解液:锰酸锂价格","v":-19},{"d":"2025-05","s":"电解液:锰酸锂价格","v":-12},{"d":"2025-06","s":"电解液:锰酸锂价格","v":-4},{"d":"2025-07","s":"电解液:锰酸锂价格","v":-11},{"d":"2025-08","s":"电解液:锰酸锂价格","v":-7},{"d":"2025-09","s":"电解液:锰酸锂价格","v":-7},
{"d":"2023-10","s":"六氟磷酸锂价格","v":-68},{"d":"2023-11","s":"六氟磷酸锂价格","v":-68},{"d":"2023-12","s":"六氟磷酸锂价格","v":-69},{"d":"2024-01","s":"六氟磷酸锂价格","v":-68},{"d":"2024-02","s":"六氟磷酸锂价格","v":-64},{"d":"2024-03","s":"六氟磷酸锂价格","v":-38},{"d":"2024-04","s":"六氟磷酸锂价格","v":-21},{"d":"2024-05","s":"六氟磷酸锂价格","v":-57},{"d":"2024-06","s":"六氟磷酸锂价格","v":-63},{"d":"2024-07","s":"六氟磷酸锂价格","v":-60},{"d":"2024-08","s":"六氟磷酸锂价格","v":-55},{"d":"2024-09","s":"六氟磷酸锂价格","v":-45},{"d":"2024-10","s":"六氟磷酸锂价格","v":-40},{"d":"2024-11","s":"六氟磷酸锂价格","v":-32},{"d":"2024-12","s":"六氟磷酸锂价格","v":-13},{"d":"2025-01","s":"六氟磷酸锂价格","v":-7},{"d":"2025-02","s":"六氟磷酸锂价格","v":-3},{"d":"2025-03","s":"六氟磷酸锂价格","v":-2},{"d":"2025-04","s":"六氟磷酸锂价格","v":-15},{"d":"2025-05","s":"六氟磷酸锂价格","v":-18},{"d":"2025-06","s":"六氟磷酸锂价格","v":-21},{"d":"2025-07","s":"六氟磷酸锂价格","v":-18},{"d":"2025-08","s":"六氟磷酸锂价格","v":-2},{"d":"2025-09","s":"六氟磷酸锂价格","v":10},
{"d":"2023-10","s":"碳酸锂价格","v":-70},{"d":"2023-11","s":"碳酸锂价格","v":-77},{"d":"2023-12","s":"碳酸锂价格","v":-81},{"d":"2024-01","s":"碳酸锂价格","v":-79},{"d":"2024-02","s":"碳酸锂价格","v":-74},{"d":"2024-03","s":"碳酸锂价格","v":-55},{"d":"2024-04","s":"碳酸锂价格","v":-37},{"d":"2024-05","s":"碳酸锂价格","v":-64},{"d":"2024-06","s":"碳酸锂价格","v":-70},{"d":"2024-07","s":"碳酸锂价格","v":-70},{"d":"2024-08","s":"碳酸锂价格","v":-63},{"d":"2024-09","s":"碳酸锂价格","v":-55},{"d":"2024-10","s":"碳酸锂价格","v":-56},{"d":"2024-11","s":"碳酸锂价格","v":-38},{"d":"2024-12","s":"碳酸锂价格","v":-22},{"d":"2025-01","s":"碳酸锂价格","v":-20},{"d":"2025-02","s":"碳酸锂价格","v":-25},{"d":"2025-03","s":"碳酸锂价格","v":-33},{"d":"2025-04","s":"碳酸锂价格","v":-40},{"d":"2025-05","s":"碳酸锂价格","v":-43},{"d":"2025-06","s":"碳酸锂价格","v":-33},{"d":"2025-07","s":"碳酸锂价格","v":-10},{"d":"2025-08","s":"碳酸锂价格","v":5},{"d":"2025-09","s":"碳酸锂价格","v":-3}
],
"p5": [
{"d":"2023-10","s":"电解镍价格","v":-22},{"d":"2023-11","s":"电解镍价格","v":-33},{"d":"2023-12","s":"电解镍价格","v":-43},{"d":"2024-01","s":"电解镍价格","v":-42},{"d":"2024-02","s":"电解镍价格","v":-33},{"d":"2024-03","s":"电解镍价格","v":-28},{"d":"2024-04","s":"电解镍价格","v":-25},{"d":"2024-05","s":"电解镍价格","v":-13},{"d":"2024-06","s":"电解镍价格","v":-22},{"d":"2024-07","s":"电解镍价格","v":-25},{"d":"2024-08","s":"电解镍价格","v":-20},{"d":"2024-09","s":"电解镍价格","v":-17},{"d":"2024-10","s":"电解镍价格","v":-15},{"d":"2024-11","s":"电解镍价格","v":-5},{"d":"2024-12","s":"电解镍价格","v":-4},{"d":"2025-01","s":"电解镍价格","v":-3},{"d":"2025-02","s":"电解镍价格","v":-8},{"d":"2025-03","s":"电解镍价格","v":-2},{"d":"2025-04","s":"电解镍价格","v":-13},{"d":"2025-05","s":"电解镍价格","v":-20},{"d":"2025-06","s":"电解镍价格","v":-12},{"d":"2025-07","s":"电解镍价格","v":-10},{"d":"2025-08","s":"电解镍价格","v":-8},{"d":"2025-09","s":"电解镍价格","v":-7},
{"d":"2023-10","s":"氢氧化锂价格","v":-72},{"d":"2023-11","s":"氢氧化锂价格","v":-78},{"d":"2023-12","s":"氢氧化锂价格","v":-83},{"d":"2024-01","s":"氢氧化锂价格","v":-82},{"d":"2024-02","s":"氢氧化锂价格","v":-80},{"d":"2024-03","s":"氢氧化锂价格","v":-72},{"d":"2024-04","s":"氢氧化锂价格","v":-47},{"d":"2024-05","s":"氢氧化锂价格","v":-68},{"d":"2024-06","s":"氢氧化锂价格","v":-72},{"d":"2024-07","s":"氢氧化锂价格","v":-70},{"d":"2024-08","s":"氢氧化锂价格","v":-63},{"d":"2024-09","s":"氢氧化锂价格","v":-57},{"d":"2024-10","s":"氢氧化锂价格","v":-55},{"d":"2024-11","s":"氢氧化锂价格","v":-43},{"d":"2024-12","s":"氢氧化锂价格","v":-20},{"d":"2025-01","s":"氢氧化锂价格","v":-18},{"d":"2025-02","s":"氢氧化锂价格","v":-20},{"d":"2025-03","s":"氢氧化锂价格","v":-25},{"d":"2025-04","s":"氢氧化锂价格","v":-30},{"d":"2025-05","s":"氢氧化锂价格","v":-33},{"d":"2025-06","s":"氢氧化锂价格","v":-32},{"d":"2025-07","s":"氢氧化锂价格","v":-20},{"d":"2025-08","s":"氢氧化锂价格","v":5},{"d":"2025-09","s":"氢氧化锂价格","v":6},
{"d":"2023-10","s":"电解钴价格","v":-20},{"d":"2023-11","s":"电解钴价格","v":-27},{"d":"2023-12","s":"电解钴价格","v":-32},{"d":"2024-01","s":"电解钴价格","v":-27},{"d":"2024-02","s":"电解钴价格","v":-27},{"d":"2024-03","s":"电解钴价格","v":-22},{"d":"2024-04","s":"电解钴价格","v":-18},{"d":"2024-05","s":"电解钴价格","v":-12},{"d":"2024-06","s":"电解钴价格","v":-25},{"d":"2024-07","s":"电解钴价格","v":-30},{"d":"2024-08","s":"电解钴价格","v":-32},{"d":"2024-09","s":"电解钴价格","v":-33},{"d":"2024-10","s":"电解钴价格","v":-35},{"d":"2024-11","s":"电解钴价格","v":-28},{"d":"2024-12","s":"电解钴价格","v":-25},{"d":"2025-01","s":"电解钴价格","v":-25},{"d":"2025-02","s":"电解钴价格","v":-18},{"d":"2025-03","s":"电解钴价格","v":8},{"d":"2025-04","s":"电解钴价格","v":10},{"d":"2025-05","s":"电解钴价格","v":4},{"d":"2025-06","s":"电解钴价格","v":15},{"d":"2025-07","s":"电解钴价格","v":30},{"d":"2025-08","s":"电解钴价格","v":55},{"d":"2025-09","s":"电解钴价格","v":98}
],
"p6": [
{"d":"2023-10","s":"充电桩保有量","v":50.5},{"d":"2023-11","s":"充电桩保有量","v":51.5},{"d":"2023-12","s":"充电桩保有量","v":52},{"d":"2024-01","s":"充电桩保有量","v":51.5},{"d":"2024-02","s":"充电桩保有量","v":51.3},{"d":"2024-03","s":"充电桩保有量","v":51},{"d":"2024-04","s":"充电桩保有量","v":48.5},{"d":"2024-05","s":"充电桩保有量","v":47.2},{"d":"2024-06","s":"充电桩保有量","v":46.5},{"d":"2024-07","s":"充电桩保有量","v":45.5},{"d":"2024-08","s":"充电桩保有量","v":45.2},{"d":"2024-09","s":"充电桩保有量","v":44},{"d":"2024-10","s":"充电桩保有量","v":35.5},{"d":"2024-11","s":"充电桩保有量","v":34.5},{"d":"2024-12","s":"充电桩保有量","v":32},{"d":"2025-01","s":"充电桩保有量","v":31.5},{"d":"2025-02","s":"充电桩保有量","v":35},{"d":"2025-03","s":"充电桩保有量","v":35.5},{"d":"2025-04","s":"充电桩保有量","v":34.5},{"d":"2025-05","s":"充电桩保有量","v":34.3},{"d":"2025-06","s":"充电桩保有量","v":34},{"d":"2025-07","s":"充电桩保有量","v":31.5},{"d":"2025-08","s":"充电桩保有量","v":31},{"d":"2025-09","s":"充电桩保有量","v":32.5}
],
"p7": [
{"d":"2023-10","s":"新造船价格","v":1.5},{"d":"2023-11","s":"新造船价格","v":2.6},{"d":"2023-12","s":"新造船价格","v":4.2},{"d":"2024-01","s":"新造船价格","v":5.1},{"d":"2024-02","s":"新造船价格","v":5.3},{"d":"2024-03","s":"新造船价格","v":5.4},{"d":"2024-04","s":"新造船价格","v":5.1},{"d":"2024-05","s":"新造船价格","v":5.2},{"d":"2024-06","s":"新造船价格","v":6.0},{"d":"2024-07","s":"新造船价格","v":6.2},{"d":"2024-08","s":"新造船价格","v":6.9},{"d":"2024-09","s":"新造船价格","v":6.85},{"d":"2024-10","s":"新造船价格","v":6.6},{"d":"2024-11","s":"新造船价格","v":6.3},{"d":"2024-12","s":"新造船价格","v":5.9},{"d":"2025-01","s":"新造船价格","v":5.3},{"d":"2025-02","s":"新造船价格","v":4.6},{"d":"2025-03","s":"新造船价格","v":3.5},{"d":"2025-04","s":"新造船价格","v":2.5},{"d":"2025-05","s":"新造船价格","v":1.2},{"d":"2025-06","s":"新造船价格","v":-0.4},{"d":"2025-07","s":"新造船价格","v":-1.0},{"d":"2025-08","s":"新造船价格","v":-1.9},{"d":"2025-09","s":"新造船价格","v":-2.2}
],
"p8": [
{"d":"2023-10","s":"新接船舶订单量","v":63},{"d":"2023-11","s":"新接船舶订单量","v":63},{"d":"2023-12","s":"新接船舶订单量","v":56},{"d":"2024-02","s":"新接船舶订单量","v":64},{"d":"2024-06","s":"新接船舶订单量","v":44},{"d":"2024-12","s":"新接船舶订单量","v":58},{"d":"2025-06","s":"新接船舶订单量","v":-18}
],
"p9": [
{"d":"2023-10","s":"工业机器人产量","v":-2.5},{"d":"2023-11","s":"工业机器人产量","v":-3.5},{"d":"2023-12","s":"工业机器人产量","v":-3},{"d":"2024-02","s":"工业机器人产量","v":22},{"d":"2024-03","s":"工业机器人产量","v":16},{"d":"2024-04","s":"工业机器人产量","v":20},{"d":"2024-05","s":"工业机器人产量","v":24.5},{"d":"2024-06","s":"工业机器人产量","v":27.5},{"d":"2024-07","s":"工业机器人产量","v":21.5},{"d":"2024-08","s":"工业机器人产量","v":28},{"d":"2024-09","s":"工业机器人产量","v":30},{"d":"2024-10","s":"工业机器人产量","v":31.5},{"d":"2024-11","s":"工业机器人产量","v":24.5},{"d":"2024-12","s":"工业机器人产量","v":29},{"d":"2025-02","s":"工业机器人产量","v":19.5},{"d":"2025-03","s":"工业机器人产量","v":24},{"d":"2025-04","s":"工业机器人产量","v":29},{"d":"2025-05","s":"工业机器人产量","v":26},{"d":"2025-06","s":"工业机器人产量","v":30},{"d":"2025-07","s":"工业机器人产量","v":43},{"d":"2025-08","s":"工业机器人产量","v":42}
],
"p10": [
{"d":"2023-10","s":"叉车内销量:累计","v":8},{"d":"2023-11","s":"叉车内销量:累计","v":10},{"d":"2023-12","s":"叉车内销量:累计","v":12},{"d":"2024-01","s":"叉车内销量:累计","v":108},{"d":"2024-02","s":"叉车内销量:累计","v":5},{"d":"2024-03","s":"叉车内销量:累计","v":5},{"d":"2024-04","s":"叉车内销量:累计","v":12},{"d":"2024-05","s":"叉车内销量:累计","v":11},{"d":"2024-06","s":"叉车内销量:累计","v":10},{"d":"2024-07","s":"叉车内销量:累计","v":9},{"d":"2024-08","s":"叉车内销量:累计","v":8},{"d":"2024-09","s":"叉车内销量:累计","v":6},{"d":"2024-10","s":"叉车内销量:累计","v":5},{"d":"2024-11","s":"叉车内销量:累计","v":5},{"d":"2024-12","s":"叉车内销量:累计","v":5},{"d":"2025-01","s":"叉车内销量:累计","v":-23},{"d":"2025-02","s":"叉车内销量:累计","v":7},{"d":"2025-03","s":"叉车内销量:累计","v":9},{"d":"2025-04","s":"叉车内销量:累计","v":6},{"d":"2025-05","s":"叉车内销量:累计","v":7},{"d":"2025-06","s":"叉车内销量:累计","v":10},{"d":"2025-07","s":"叉车内销量:累计","v":10},{"d":"2025-08","s":"叉车内销量:累计","v":11},
{"d":"2023-10","s":"叉车外销量:累计","v":10},{"d":"2023-11","s":"叉车外销量:累计","v":11},{"d":"2023-12","s":"叉车外销量:累计","v":12},{"d":"2024-01","s":"叉车外销量:累计","v":62},{"d":"2024-02","s":"叉车外销量:累计","v":22},{"d":"2024-03","s":"叉车外销量:累计","v":25},{"d":"2024-04","s":"叉车外销量:累计","v":21},{"d":"2024-05","s":"叉车外销量:累计","v":19},{"d":"2024-06","s":"叉车外销量:累计","v":19},{"d":"2024-07","s":"叉车外销量:累计","v":20},{"d":"2024-08","s":"叉车外销量:累计","v":19},{"d":"2024-09","s":"叉车外销量:累计","v":20},{"d":"2024-10","s":"叉车外销量:累计","v":19},{"d":"2024-11","s":"叉车外销量:累计","v":19},{"d":"2024-12","s":"叉车外销量:累计","v":18},{"d":"2025-01","s":"叉车外销量:累计","v":1},{"d":"2025-02","s":"叉车外销量:累计","v":13},{"d":"2025-03","s":"叉车外销量:累计","v":13},{"d":"2025-04","s":"叉车外销量:累计","v":14},{"d":"2025-05","s":"叉车外销量:累计","v":14},{"d":"2025-06","s":"叉车外销量:累计","v":15},{"d":"2025-07","s":"叉车外销量:累计","v":15},{"d":"2025-08","s":"叉车外销量:累计","v":16}
],
"p11": [
{"d":"2023-10","s":"挖掘机出口量","v":-42},{"d":"2023-11","s":"挖掘机出口量","v":-43},{"d":"2023-12","s":"挖掘机出口量","v":-41},{"d":"2024-01","s":"挖掘机出口量","v":58},{"d":"2024-02","s":"挖掘机出口量","v":-24},{"d":"2024-03","s":"挖掘机出口量","v":-9},{"d":"2024-04","s":"挖掘机出口量","v":-3},{"d":"2024-05","s":"挖掘机出口量","v":3},{"d":"2024-06","s":"挖掘机出口量","v":5},{"d":"2024-07","s":"挖掘机出口量","v":6.5},{"d":"2024-08","s":"挖掘机出口量","v":8},{"d":"2024-09","s":"挖掘机出口量","v":9},{"d":"2024-10","s":"挖掘机出口量","v":10},{"d":"2024-11","s":"挖掘机出口量","v":11},{"d":"2024-12","s":"挖掘机出口量","v":12},{"d":"2025-01","s":"挖掘机出口量","v":0},{"d":"2025-02","s":"挖掘机出口量","v":51},{"d":"2025-03","s":"挖掘机出口量","v":38},{"d":"2025-04","s":"挖掘机出口量","v":31},{"d":"2025-05","s":"挖掘机出口量","v":25},{"d":"2025-06","s":"挖掘机出口量","v":22},{"d":"2025-07","s":"挖掘机出口量","v":21.5},{"d":"2025-08","s":"挖掘机出口量","v":21},
{"d":"2023-10","s":"挖掘机内销量","v":-1},{"d":"2023-11","s":"挖掘机内销量","v":-3},{"d":"2023-12","s":"挖掘机内销量","v":-4},{"d":"2024-01","s":"挖掘机内销量","v":-1},{"d":"2024-02","s":"挖掘机内销量","v":-20},{"d":"2024-03","s":"挖掘机内销量","v":-18},{"d":"2024-04","s":"挖掘机内销量","v":-17},{"d":"2024-05","s":"挖掘机内销量","v":-16},{"d":"2024-06","s":"挖掘机内销量","v":-15},{"d":"2024-07","s":"挖掘机内销量","v":-13},{"d":"2024-08","s":"挖掘机内销量","v":-12},{"d":"2024-09","s":"挖掘机内销量","v":-10},{"d":"2024-10","s":"挖掘机内销量","v":-9},{"d":"2024-11","s":"挖掘机内销量","v":-7},{"d":"2024-12","s":"挖掘机内销量","v":-4},{"d":"2025-01","s":"挖掘机内销量","v":2},{"d":"2025-02","s":"挖掘机内销量","v":8},{"d":"2025-03","s":"挖掘机内销量","v":5},{"d":"2025-04","s":"挖掘机内销量","v":9},{"d":"2025-05","s":"挖掘机内销量","v":8},{"d":"2025-06","s":"挖掘机内销量","v":10},{"d":"2025-07","s":"挖掘机内销量","v":13},{"d":"2025-08","s":"挖掘机内销量","v":12}
],
"p12": [
{"d":"2023-10","s":"重卡销量","v":38},{"d":"2023-11","s":"重卡销量","v":39},{"d":"2023-12","s":"重卡销量","v":35},{"d":"2024-01","s":"重卡销量","v":98},{"d":"2024-02","s":"重卡销量","v":24},{"d":"2024-03","s":"重卡销量","v":13},{"d":"2024-04","s":"重卡销量","v":9},{"d":"2024-05","s":"重卡销量","v":7},{"d":"2024-06","s":"重卡销量","v":3},{"d":"2024-07","s":"重卡销量","v":2},{"d":"2024-08","s":"重卡销量","v":1},{"d":"2024-09","s":"重卡销量","v":-3},{"d":"2024-10","s":"重卡销量","v":-4},{"d":"2024-11","s":"重卡销量","v":-4},{"d":"2024-12","s":"重卡销量","v":-1},{"d":"2025-01","s":"重卡销量","v":-25},{"d":"2025-02","s":"重卡销量","v":-2},{"d":"2025-03","s":"重卡销量","v":-3},{"d":"2025-04","s":"重卡销量","v":0},{"d":"2025-05","s":"重卡销量","v":3},{"d":"2025-06","s":"重卡销量","v":7},{"d":"2025-07","s":"重卡销量","v":11},{"d":"2025-08","s":"重卡销量","v":14}
]
},
"config": {
 "view": {"stroke": null},
 "font": "Liberation Sans",
 "axis": {"labelFont": "Liberation Sans", "labelFontSize": 9, "labelColor": "#2F4B9B", "domainColor": "#8EB4E3", "tickColor": "#8EB4E3", "grid": false},
 "axisX": {"domain": false, "ticks": false, "labelAngle": -45, "labelAlign": "right", "labelBaseline": "middle", "labelPadding": 4, "labelFlush": false, "labelOverlap": false, "format": "%Y-%m"},
 "axisY": {"tickSize": 3, "labelPadding": 2, "labelOverlap": false, "labelFlush": false},
 "legend": {"symbolType": "M-2.1,0H2.1", "symbolStrokeWidth": 3, "symbolSize": 100, "labelFont": "Noto Sans CJK SC", "labelFontSize": 8.5, "labelColor": "#1F3B84", "columnPadding": 17.5, "labelOffset": 7.5, "padding": 0, "labelLimit": 300}
}
}
